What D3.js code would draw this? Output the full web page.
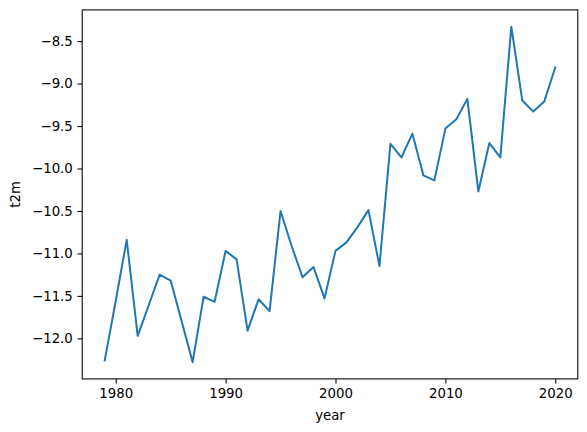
<!DOCTYPE html>
<html>
<head>
<meta charset="utf-8">
<script src="https://cdn.jsdelivr.net/npm/d3@7"></script>
<style>
html,body{margin:0;padding:0;background:#fff;}
svg{display:block;}
text{font-family:"DejaVu Sans",sans-serif;fill:#000;}
</style>
</head>
<body>
<svg id="chart" width="587" height="432"></svg>
<script>
const years = d3.range(1979, 2021);
const t2m = [
  -12.26, -11.56, -10.84, -11.97, -11.61, -11.25, -11.32, -11.80, -12.28, -11.51,
  -11.57, -10.97, -11.07, -11.91, -11.54, -11.68, -10.50, -10.91, -11.28, -11.16,
  -11.53, -10.97, -10.87, -10.69, -10.49, -11.15, -9.71, -9.87, -9.59, -10.08,
  -10.14, -9.53, -9.42, -9.18, -10.27, -9.70, -9.87, -8.33, -9.20, -9.33,
  -9.21, -8.81
];
const xTicks = [1980, 1990, 2000, 2010, 2020];
const yTicks = [-12.0, -11.5, -11.0, -10.5, -10.0, -9.5, -9.0, -8.5];
const xLabel = "year";
const yLabel = "t2m";

const svg = d3.select("#chart");
const L = 82.2, R = 577.8, T = 9.9, B = 378.9;

const xmin = d3.min(years), xmax = d3.max(years);
const xm = (xmax - xmin) * 0.05;
const ymin = d3.min(t2m), ymax = d3.max(t2m);
const ym = (ymax - ymin) * 0.05;

const x = d3.scaleLinear().domain([xmin - xm, xmax + xm]).range([L, R]);
const y = d3.scaleLinear().domain([ymin - ym, ymax + ym]).range([B, T]);

const fmtY = v => (v < 0 ? "\u2212" : "") + Math.abs(v).toFixed(1);

const xAxis = d3.axisBottom(x).tickValues(xTicks).tickFormat(d3.format("d")).tickSize(4.7).tickPadding(4.7);
const yAxis = d3.axisLeft(y).tickValues(yTicks).tickFormat(fmtY).tickSize(4.7).tickPadding(4.7);

const gx = svg.append("g").attr("transform", `translate(0,${B})`).call(xAxis);
const gy = svg.append("g").attr("transform", `translate(${L},0)`).call(yAxis);
[gx, gy].forEach(g => {
  g.select(".domain").remove();
  g.selectAll(".tick line").attr("stroke", "#000").attr("stroke-width", 1.07);
  g.selectAll(".tick text").style("font-family", "DejaVu Sans, sans-serif").style("font-size", "13.3px").attr("fill", "#000");
});

const line = d3.line().x((d, i) => x(years[i])).y(d => y(d));
svg.append("path").datum(t2m)
  .attr("d", line)
  .attr("fill", "none")
  .attr("stroke", "#1f77b4")
  .attr("stroke-width", 2)
  .attr("stroke-linejoin", "round")
  .attr("stroke-linecap", "square");

svg.append("rect")
  .attr("x", L).attr("y", T).attr("width", R - L).attr("height", B - T)
  .attr("fill", "none").attr("stroke", "#000").attr("stroke-width", 1.07);

svg.append("text")
  .attr("x", (L + R) / 2).attr("y", 420)
  .attr("text-anchor", "middle")
  .style("font-size", "13.3px")
  .text(xLabel);

svg.append("text")
  .attr("transform", `translate(20,${(T + B) / 2}) rotate(-90)`)
  .attr("text-anchor", "middle")
  .style("font-size", "13.3px")
  .text(yLabel);
</script>
</body>
</html>
